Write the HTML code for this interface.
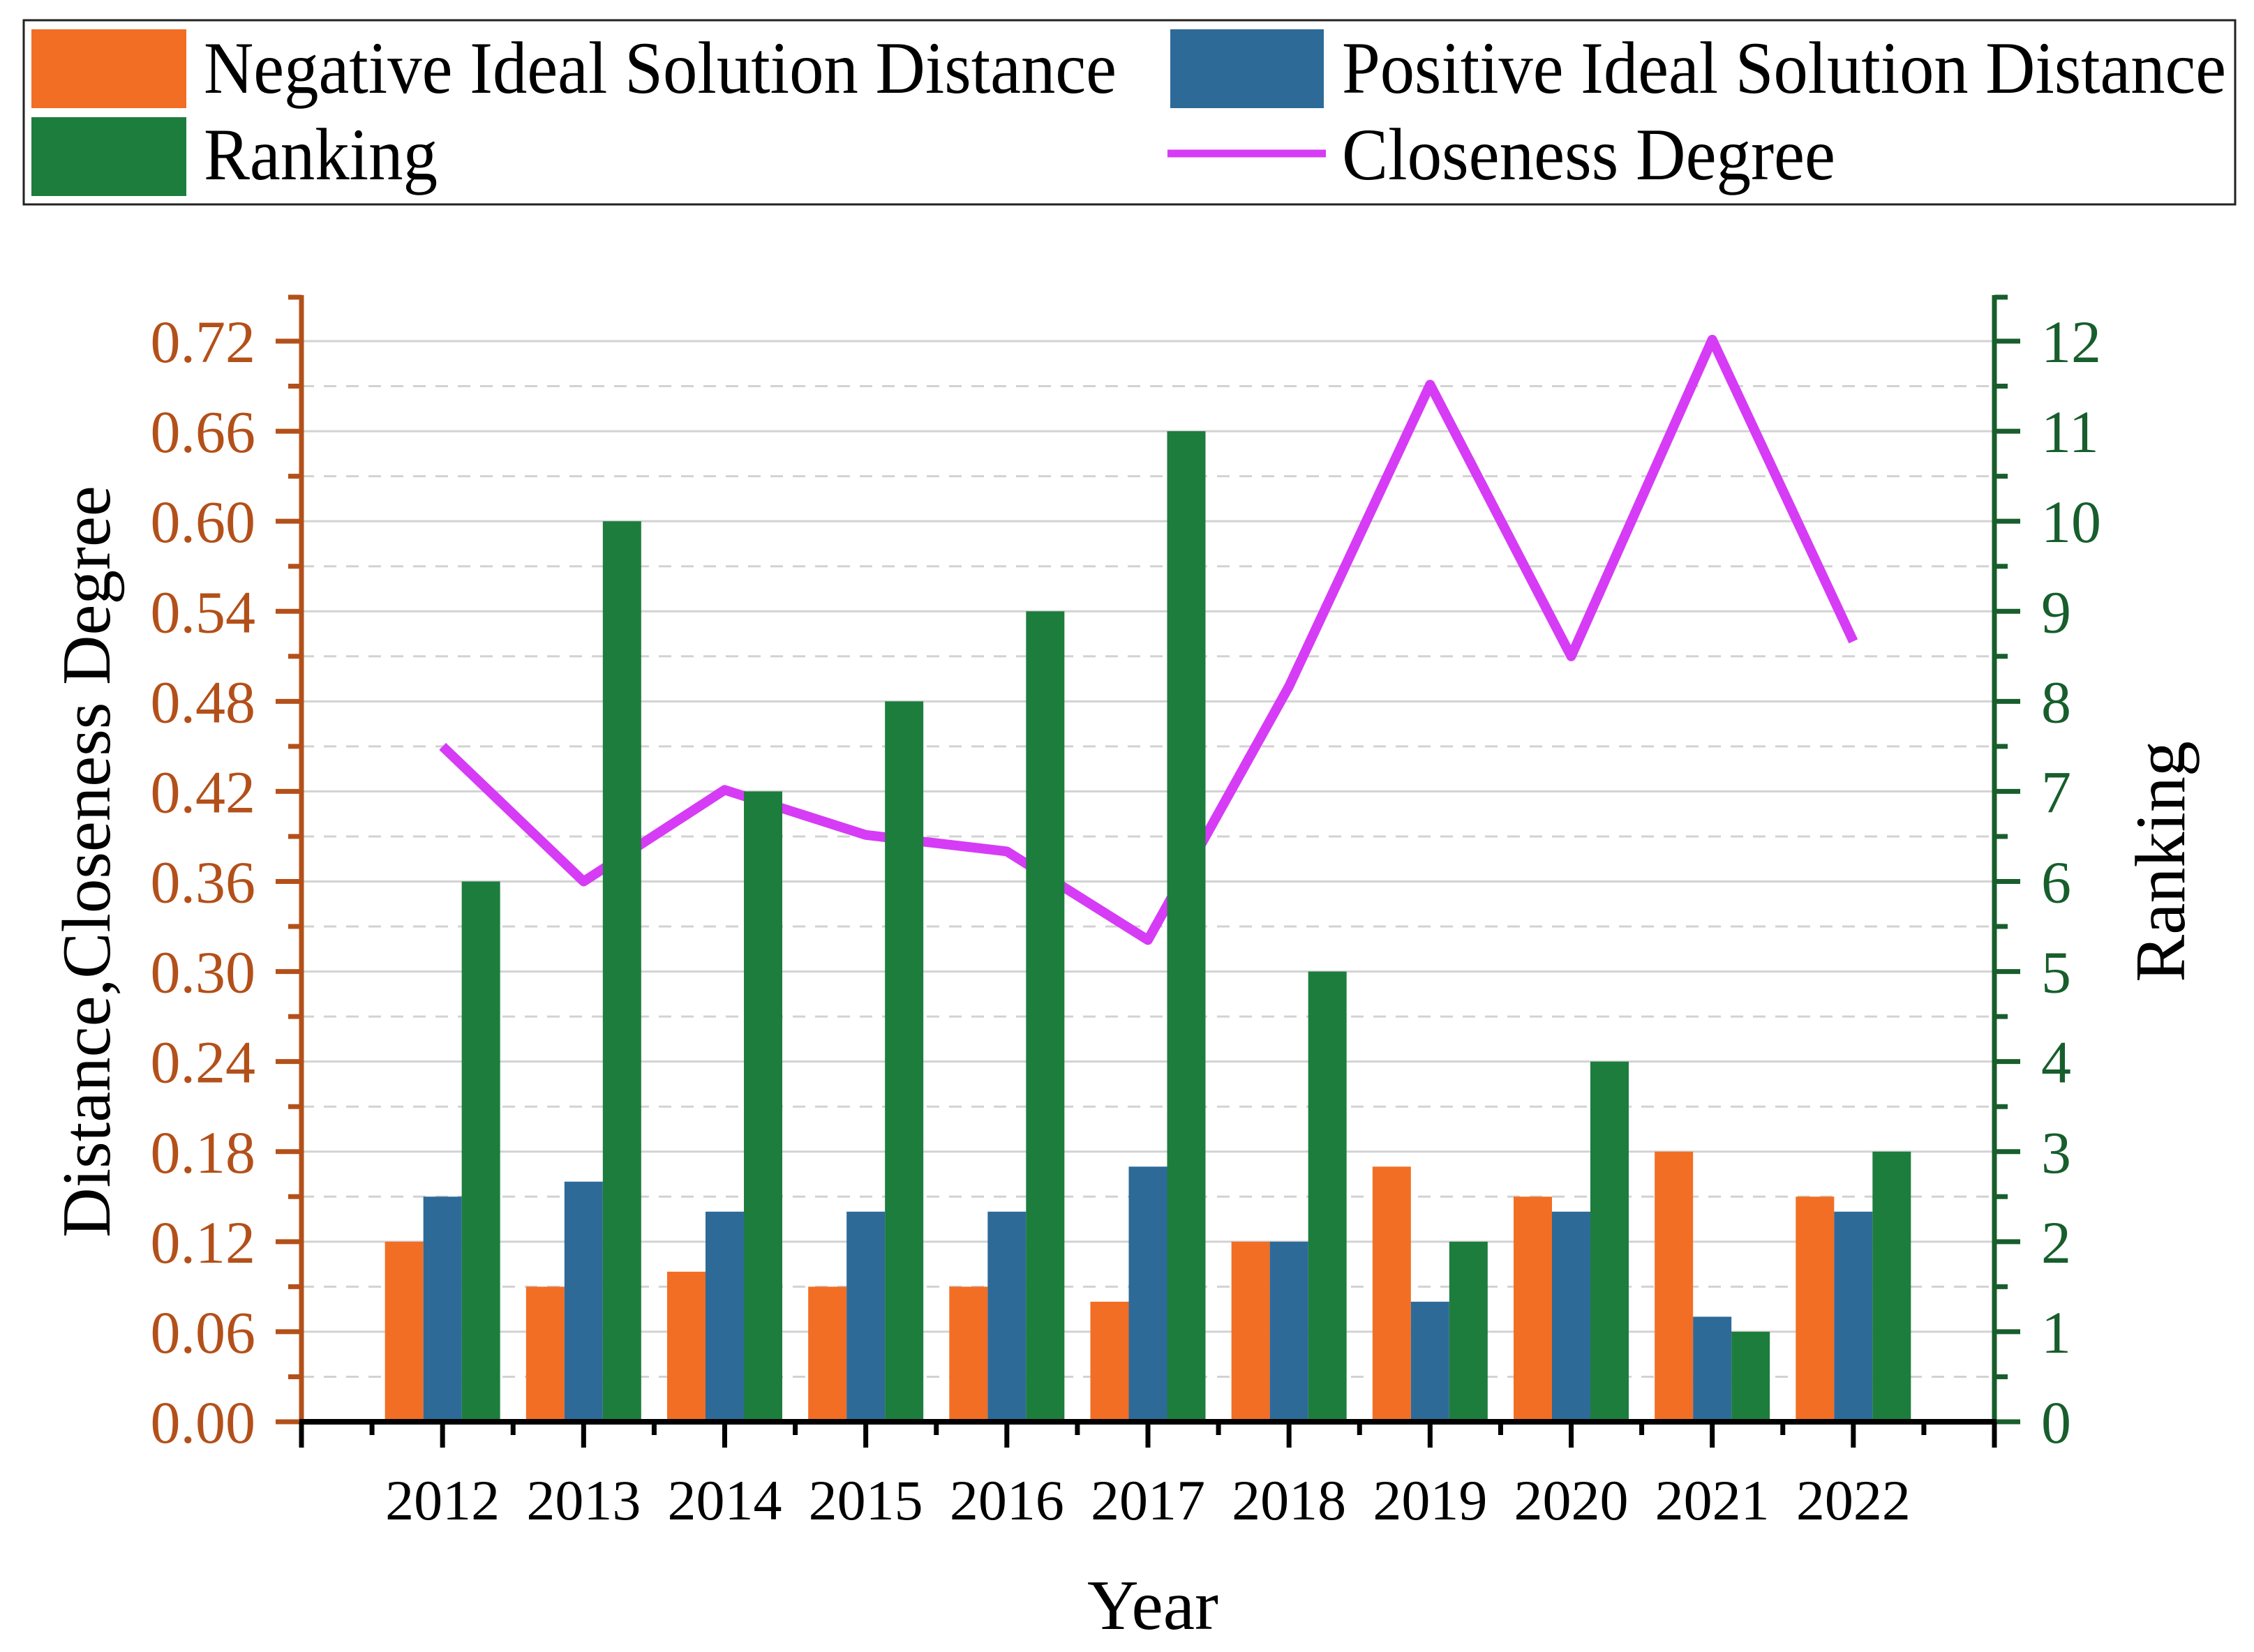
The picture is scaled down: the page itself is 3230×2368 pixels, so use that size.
<!DOCTYPE html>
<html><head><meta charset="utf-8">
<style>
html,body{margin:0;padding:0;background:#fff;}
svg{display:block;font-family:"Liberation Serif",serif;}
</style></head>
<body>
<svg id="chart" width="3230" height="2368" viewBox="0 0 3230 2368" xmlns="http://www.w3.org/2000/svg">
  <g id="legend">
    <rect x="34" y="29" width="3169" height="264" fill="#fff" stroke="#222" stroke-width="3"/>
    <rect x="45" y="42" width="222" height="113" fill="#f26e24"/>
    <text x="292" y="133" font-size="106" textLength="1308" lengthAdjust="spacingAndGlyphs" fill="#000">Negative Ideal Solution Distance</text>
    <rect x="1677" y="42" width="220" height="113" fill="#2d6a98"/>
    <text x="1923" y="133" font-size="106" textLength="1267" lengthAdjust="spacingAndGlyphs" fill="#000">Positive Ideal Solution Distance</text>
    <rect x="45" y="168" width="222" height="113" fill="#1d7d3d"/>
    <text x="292" y="257" font-size="106" textLength="335" lengthAdjust="spacingAndGlyphs" fill="#000">Ranking</text>
    <line x1="1673" y1="220" x2="1900" y2="220" stroke="#d63cf5" stroke-width="11"/>
    <text x="1923" y="257" font-size="106" textLength="707" lengthAdjust="spacingAndGlyphs" fill="#000">Closeness Degree</text>
  </g>
  <g id="grid"></g>
  <g id="line"></g>
  <g id="bars"></g>
  <g id="axes"></g>
  <text x="0" y="0" transform="translate(157,1235) rotate(-90)" text-anchor="middle" font-size="99" fill="#000">Distance,Closeness Degree</text>
  <text x="0" y="0" transform="translate(3130,1235) rotate(-90)" text-anchor="middle" font-size="102" fill="#000">Ranking</text>
  <text x="1652" y="2335" text-anchor="middle" font-size="102" fill="#000">Year</text>
</svg>
<script>
const years = ["2012","2013","2014","2015","2016","2017","2018","2019","2020","2021","2022"];
const negDist = [0.12,0.09,0.10,0.09,0.09,0.08,0.12,0.17,0.15,0.18,0.15];
const posDist = [0.15,0.16,0.14,0.14,0.14,0.17,0.12,0.08,0.14,0.07,0.14];
const ranking = [6,10,7,8,9,11,5,2,4,1,3];
const closeness = [0.45,0.36,0.421,0.391,0.38,0.321,0.49,0.691,0.51,0.721,0.52];
const leftTicks = ["0.00","0.06","0.12","0.18","0.24","0.30","0.36","0.42","0.48","0.54","0.60","0.66","0.72"];
const rightTicks = ["0","1","2","3","4","5","6","7","8","9","10","11","12"];

const NS = "http://www.w3.org/2000/svg";
const X0 = 432, X1 = 2858, Y0 = 2038, YT = 489, TOP = 423;
const xs = i => X0 + (X1 - X0) * (i + 1) / 12;
const yL = v => Y0 - (Y0 - YT) * v / 0.72;
const yR = v => Y0 - (Y0 - YT) * v / 12;
function mk(tag, attrs, parent) {
  const e = document.createElementNS(NS, tag);
  for (const k in attrs) e.setAttribute(k, attrs[k]);
  parent.appendChild(e);
  return e;
}
const grid = document.getElementById('grid');
const axes = document.getElementById('axes');
const bars = document.getElementById('bars');
const lineG = document.getElementById('line');
const LC = "#b3501a", RC = "#175e2c";

for (let i = 0; i <= 24; i++) {
  const v = i * 0.03, y = yL(v);
  if (i > 0) {
    const g = mk('line', {x1: X0, x2: X1, y1: y, y2: y, stroke: "#d2d2d2", 'stroke-width': 3}, grid);
    if (i % 2) g.setAttribute('stroke-dasharray', '18 14');
    
    
  }
  const len = i % 2 ? 19 : 37;
  const t = mk('line', {x1: X0 - len, x2: X0, y1: y, y2: y, stroke: LC, 'stroke-width': 7}, axes);
  
  
  const t2 = mk('line', {x1: X1, x2: X1 + len, y1: y, y2: y, stroke: RC, 'stroke-width': 7}, axes);
  
  
}
leftTicks.forEach((s, i) => {
  const t = mk('text', {x: 366, y: yL(i * 0.06) + 30, 'text-anchor': 'end', 'font-size': 86, fill: LC}, axes);
  t.textContent = s;
  
  
});
rightTicks.forEach((s, i) => {
  const t = mk('text', {x: 2925, y: yR(i) + 30, 'font-size': 86, fill: RC}, axes);
  t.textContent = s;
  
  
});

const pts = closeness.map((v, i) => xs(i) + "," + yL(v)).join(" ");
const pl = mk('polyline', {points: pts, fill: "none", stroke: "#d63cf5", 'stroke-width': 14, 'stroke-linejoin': 'round'}, lineG);



const BW = 55;
years.forEach((yr, i) => {
  const cx = xs(i);
  const b1 = mk('rect', {x: cx - 1.5 * BW, y: yL(negDist[i]), width: BW, height: Y0 - yL(negDist[i]), fill: "#f26e24"}, bars);
  
  
  const b2 = mk('rect', {x: cx - 0.5 * BW, y: yL(posDist[i]), width: BW, height: Y0 - yL(posDist[i]), fill: "#2d6a98"}, bars);
  
  
  const b3 = mk('rect', {x: cx + 0.5 * BW, y: yR(ranking[i]), width: BW, height: Y0 - yR(ranking[i]), fill: "#1d7d3d"}, bars);
  
  
  const t = mk('text', {x: cx, y: 2178, 'text-anchor': 'middle', 'font-size': 82, fill: "#000"}, axes);
  t.textContent = yr;
  
  
});
for (let k = 0; k <= 24; k++) {
  const x = X0 + (X1 - X0) * k / 24;
  const len = k % 2 ? 19 : 37;
  const t = mk('line', {x1: x, x2: x, y1: Y0, y2: Y0 + len, stroke: "#000", 'stroke-width': 7}, axes);
  
  
}
const la = mk('line', {x1: X0, x2: X0, y1: TOP, y2: Y0, stroke: LC, 'stroke-width': 7}, axes);


const lt = mk('line', {x1: X0 - 19, x2: X0, y1: TOP + 3, y2: TOP + 3, stroke: LC, 'stroke-width': 7}, axes);


const ra = mk('line', {x1: X1, x2: X1, y1: TOP, y2: Y0, stroke: RC, 'stroke-width': 7}, axes);


const rt = mk('line', {x1: X1, x2: X1 + 19, y1: TOP + 3, y2: TOP + 3, stroke: RC, 'stroke-width': 7}, axes);


const xa = mk('line', {x1: X0 - 3, x2: X1 + 3, y1: Y0, y2: Y0, stroke: "#000", 'stroke-width': 8}, axes);


</script>
</body></html>
